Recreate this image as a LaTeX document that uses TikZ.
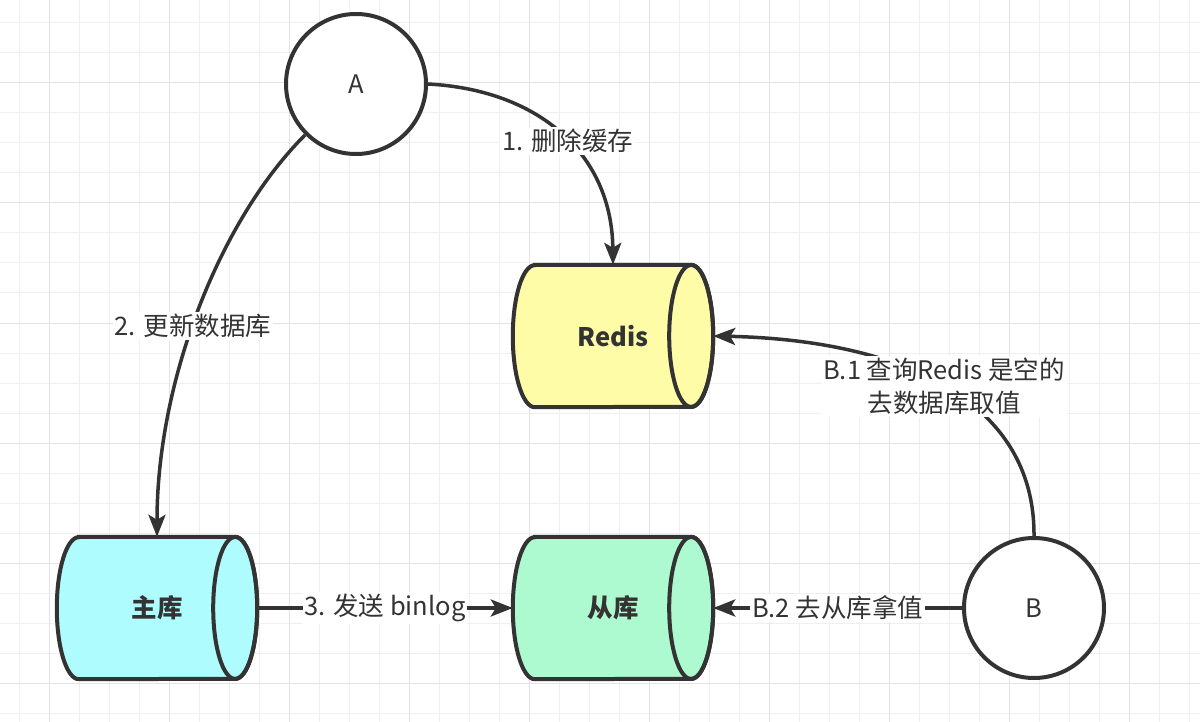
\documentclass[tikz,border=0pt]{standalone}
\usepackage{fontspec}
\setmainfont{Noto Sans CJK SC}
\usetikzlibrary{arrows.meta}
\pgfdeclarelayer{gridlayer}
\pgfdeclarelayer{bglayer}
\pgfsetlayers{gridlayer,bglayer,main}
\definecolor{ink}{HTML}{333333}
\definecolor{gridminor}{HTML}{EFEFEF}
\definecolor{gridmajor}{HTML}{E3E3E3}
\definecolor{redisfill}{HTML}{FFFCA8}
\definecolor{masterfill}{HTML}{AFFCFF}
\definecolor{slavefill}{HTML}{AEFAD0}
\tikzset{
  every node/.style={text=ink, font=\fontsize{25.5}{33}\selectfont},
  actor/.style={circle, draw=ink, line width=4pt, fill=white, minimum size=140pt, inner sep=0pt},
  dbnode/.style={rectangle, minimum width=200pt, minimum height=142pt, inner sep=0pt, font=\fontsize{25.5}{33}\selectfont\bfseries},
  dbshape/.style={draw=ink, line width=4pt},
  conn/.style={draw=ink, line width=3.5pt, -{Stealth[length=22pt,width=17pt,inset=5pt]}},
  lbl/.style={fill=white, inner sep=2pt, align=center},
  gminor/.style={draw=gridminor, line width=1pt},
  gmajor/.style={draw=gridmajor, line width=1pt},
}
\newcommand\dbcyl[2]{%
  \path[dbshape, fill=#2] ([xshift=22pt]#1.north west) -- ([xshift=-22pt]#1.north east)
    arc[start angle=90, end angle=-90, x radius=22pt, y radius=71pt]
    -- ([xshift=22pt]#1.south west)
    arc[start angle=270, end angle=90, x radius=22pt, y radius=71pt] -- cycle;
  \draw[dbshape] ([xshift=-22pt]#1.east) ellipse[x radius=22pt, y radius=71pt];
}
\begin{document}
\begin{tikzpicture}[x=1pt,y=-1pt]
\useasboundingbox (0,0) rectangle (1200,722);
\begin{pgfonlayer}{gridlayer}
  \fill[white] (0,0) rectangle (1200,722);
  \foreach \x in {19,49,...,1189} \draw[gminor] (\x,0) -- (\x,722);
  \foreach \y in {23,53,...,713} \draw[gminor] (0,\y) -- (1200,\y);
  \foreach \x in {49,169,...,1129} \draw[gmajor] (\x,0) -- (\x,722);
  \foreach \y in {83,203,...,683} \draw[gmajor] (0,\y) -- (1200,\y);
\end{pgfonlayer}

\node[actor] (A) at (356,84) {A};
\node[actor] (B) at (1034,608) {B};
\node[dbnode] (redis) at (613,336) {Redis};
\node[dbnode] (master) at (157,608) {主库};
\node[dbnode] (slave) at (613,608) {从库};

\begin{pgfonlayer}{bglayer}
  \dbcyl{redis}{redisfill}
  \dbcyl{master}{masterfill}
  \dbcyl{slave}{slavefill}
\end{pgfonlayer}

\draw[conn] (A.east) .. controls (540,90) and (612,155) .. (redis.north)
  node[lbl, pos=0.53] {1. 删除缓存};
\draw[conn] (A.south west) .. controls (220,220) and (157,380) .. (master.north)
  node[lbl, pos=0.54] {2. 更新数据库};
\draw[conn] (master.east) -- (slave.west) node[lbl, midway] {3. 发送 binlog};
\draw[conn] (B.north) .. controls (1035,400) and (900,340) .. (redis.east)
  node[lbl, pos=0.5] {B.1 查询Redis 是空的\\去数据库取值};
\draw[conn] (B.west) -- (slave.east) node[lbl, midway] {B.2 去从库拿值};
\end{tikzpicture}
\end{document}
